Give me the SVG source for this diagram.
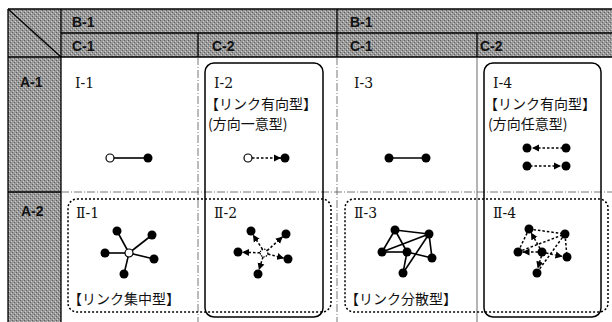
<svg xmlns="http://www.w3.org/2000/svg" width="612" height="322" viewBox="0 0 612 322">
<style>
.hd{font-family:"Liberation Sans","Noto Sans CJK JP",sans-serif;font-weight:bold;font-size:14px;fill:#111}
.lb{font-family:"Noto Sans CJK JP","Liberation Sans",sans-serif;font-size:14px;fill:#111}
.rn{font-family:"DejaVu Serif","Liberation Serif","Noto Sans CJK JP",serif;font-size:14px;fill:#111}
.tl{stroke:#000;stroke-width:1.3;fill:none}
.dd{stroke:#555;stroke-width:0.8;stroke-dasharray:8 2 1 2;fill:none}
.box{stroke:#000;stroke-width:1.5;fill:none}
.dbox{stroke:#000;stroke-width:1.5;stroke-dasharray:2 2;fill:none}
.e{stroke:#000;stroke-width:1.6;fill:none}
.de{stroke:#000;stroke-width:1.5;stroke-dasharray:2.5 2;fill:none}
.n{fill:#000}
.o{fill:#fff;stroke:#000;stroke-width:1.2}
</style>
<defs>
<pattern id="ht" width="4" height="4" patternUnits="userSpaceOnUse">
<rect width="4" height="4" fill="#9a9a9a"/>
<rect x="0" y="0" width="1" height="1" fill="#5e5e5e"/>
<rect x="2" y="2" width="1" height="1" fill="#5e5e5e"/>
<rect x="1" y="3" width="1" height="1" fill="#cccccc"/>
<rect x="3" y="1" width="1" height="1" fill="#cccccc"/>
</pattern>
<marker id="ah" viewBox="0 0 10 10" refX="10" refY="5" markerWidth="7" markerHeight="8" markerUnits="userSpaceOnUse" orient="auto">
<path d="M0,0 L10,5 L0,10 z" fill="#000"/>
</marker>
</defs>

<g id="table">
<rect x="8" y="9" width="604" height="48" fill="url(#ht)"/>
<rect x="8" y="57" width="53" height="265" fill="url(#ht)"/>
<line class="tl" x1="8" y1="9" x2="612" y2="9"/>
<line class="tl" x1="61" y1="33" x2="612" y2="33"/>
<line class="tl" x1="8" y1="57" x2="612" y2="57"/>
<line class="tl" x1="8" y1="9" x2="8" y2="322"/>
<line class="tl" x1="61" y1="9" x2="61" y2="322"/>
<line class="tl" x1="8" y1="9" x2="61" y2="57"/>
<line class="tl" x1="198" y1="33" x2="198" y2="57"/>
<line class="tl" x1="337" y1="9" x2="337" y2="57"/>
<line class="tl" x1="477" y1="33" x2="477" y2="57"/>
<line class="tl" x1="8" y1="192" x2="61" y2="192"/>
<line class="dd" x1="198" y1="57" x2="198" y2="322"/>
<line class="dd" x1="337" y1="57" x2="337" y2="322"/>
<line stroke="#444" stroke-width="0.8" x1="477" y1="57" x2="477" y2="322"/>
<line class="dd" x1="61" y1="192" x2="612" y2="192"/>
<text class="hd" x="72" y="27">B-1</text>
<text class="hd" x="72" y="51">C-1</text>
<text class="hd" x="212" y="51">C-2</text>
<text class="hd" x="350" y="27">B-1</text>
<text class="hd" x="350" y="51">C-1</text>
<text class="hd" x="480" y="51">C-2</text>
<text class="hd" x="20" y="87">A-1</text>
<text class="hd" x="21" y="216">A-2</text>
</g>

<g id="groups">
<rect class="box" x="205" y="63" width="118" height="254" rx="9"/>
<rect class="box" x="484" y="63" width="117" height="254" rx="9"/>
<rect class="dbox" x="68" y="199" width="263" height="113" rx="9"/>
<rect class="dbox" x="345" y="199" width="263" height="113" rx="9"/>
</g>

<g id="I-1">
<text class="rn" x="75" y="88">Ⅰ-1</text>
<line class="e" x1="114" y1="158" x2="145" y2="158"/>
<circle class="o" cx="110" cy="158" r="4"/>
<circle class="n" cx="148" cy="158" r="4.5"/>
</g>

<g id="I-2">
<text class="rn" x="214" y="88">Ⅰ-2</text>
<text class="lb" x="205" y="109">【リンク有向型】</text>
<text class="lb" x="208" y="129">(方向一意型)</text>
<line class="de" x1="252" y1="158" x2="281" y2="158" marker-end="url(#ah)"/>
<circle class="o" cx="248" cy="158" r="4"/>
<circle class="n" cx="285" cy="158" r="4.5"/>
</g>

<g id="I-3">
<text class="rn" x="354" y="88">Ⅰ-3</text>
<line class="e" x1="389" y1="158" x2="426" y2="158"/>
<circle class="n" cx="389" cy="158" r="4.5"/>
<circle class="n" cx="426" cy="158" r="4.5"/>
</g>

<g id="I-4">
<text class="rn" x="493" y="88">Ⅰ-4</text>
<text class="lb" x="484" y="109">【リンク有向型】</text>
<text class="lb" x="488" y="129">(方向任意型)</text>
<line class="de" x1="563" y1="148" x2="532" y2="148" marker-end="url(#ah)"/>
<circle class="n" cx="527" cy="148" r="4.5"/>
<circle class="n" cx="566" cy="148" r="4.5"/>
<line class="de" x1="530" y1="166" x2="561" y2="166" marker-end="url(#ah)"/>
<circle class="n" cx="527" cy="166" r="4.5"/>
<circle class="n" cx="566" cy="166" r="4.5"/>
</g>

<g id="II-1">
<text class="rn" x="76" y="218">Ⅱ-1</text>
<text class="lb" x="68" y="304">【リンク集中型】</text>
<g class="e">
<line x1="129" y1="253" x2="117" y2="231"/>
<line x1="129" y1="253" x2="152" y2="235"/>
<line x1="129" y1="253" x2="105" y2="253"/>
<line x1="129" y1="253" x2="154" y2="259"/>
<line x1="129" y1="253" x2="124" y2="274"/>
</g>
<circle class="n" cx="117" cy="231" r="4.5"/>
<circle class="n" cx="152" cy="235" r="4.5"/>
<circle class="n" cx="105" cy="253" r="4.5"/>
<circle class="n" cx="154" cy="259" r="4.5"/>
<circle class="n" cx="124" cy="274" r="4.5"/>
<circle class="o" cx="129" cy="253" r="4"/>
</g>

<g id="II-2">
<text class="rn" x="214" y="218">Ⅱ-2</text>
<g class="de" stroke-dasharray="2 1.5">
<line x1="262.5" y1="249.3" x2="252.9" y2="234.7" marker-end="url(#ah)"/>
<line x1="267.2" y1="250.6" x2="282.8" y2="236.6" marker-end="url(#ah)"/>
<line x1="260" y1="252.8" x2="242" y2="252.2" marker-end="url(#ah)"/>
<line x1="268" y1="254.1" x2="284.1" y2="258.2" marker-end="url(#ah)"/>
<line x1="263" y1="257" x2="258.9" y2="270" marker-end="url(#ah)"/>
</g>
<circle class="n" cx="251" cy="231" r="4.5"/>
<circle class="n" cx="286" cy="234" r="4.5"/>
<circle class="n" cx="238" cy="252" r="4.5"/>
<circle class="n" cx="288" cy="259" r="4.5"/>
<circle class="n" cx="258" cy="274" r="4.5"/>
<circle cx="264" cy="253" r="3.8" fill="#fff" stroke="#000" stroke-width="1.2" stroke-dasharray="1.5 1"/>
</g>

<g id="II-3">
<text class="rn" x="354" y="218">Ⅱ-3</text>
<text class="lb" x="345" y="304">【リンク分散型】</text>
<g class="e">
<line x1="395" y1="230" x2="429" y2="234"/>
<line x1="395" y1="230" x2="382" y2="252"/>
<line x1="395" y1="230" x2="407" y2="252"/>
<line x1="382" y1="252" x2="407" y2="252"/>
<line x1="382" y1="252" x2="429" y2="234"/>
<line x1="407" y1="252" x2="432" y2="258"/>
<line x1="429" y1="234" x2="432" y2="258"/>
<line x1="429" y1="234" x2="403" y2="273"/>
<line x1="407" y1="252" x2="403" y2="273"/>
</g>
<circle class="n" cx="395" cy="230" r="4.5"/>
<circle class="n" cx="429" cy="234" r="4.5"/>
<circle class="n" cx="382" cy="252" r="4.5"/>
<circle class="n" cx="407" cy="252" r="4.5"/>
<circle class="n" cx="432" cy="258" r="4.5"/>
<circle class="n" cx="403" cy="273" r="4.5"/>
</g>

<g id="II-4">
<text class="rn" x="493" y="218">Ⅱ-4</text>
<g class="de" stroke-dasharray="2.5 1.5">
<line x1="529" y1="229" x2="565" y2="234"/>
<line x1="529" y1="229" x2="518" y2="252"/>
<line x1="540" y1="248.5" x2="531" y2="232.5" marker-end="url(#ah)"/>
<line x1="538" y1="252" x2="522.5" y2="252" marker-end="url(#ah)"/>
<line x1="518" y1="252" x2="565" y2="234"/>
<line x1="546" y1="253" x2="562.5" y2="256.5" marker-end="url(#ah)"/>
<line x1="565" y1="234" x2="567" y2="257"/>
<line x1="565" y1="234" x2="539.5" y2="269"/>
<line x1="541.5" y1="256" x2="537.7" y2="268.5" marker-end="url(#ah)"/>
</g>
<circle class="n" cx="529" cy="229" r="4.5"/>
<circle class="n" cx="565" cy="234" r="4.5"/>
<circle class="n" cx="518" cy="252" r="4.5"/>
<circle class="n" cx="542" cy="252" r="4.5"/>
<circle class="n" cx="567" cy="257" r="4.5"/>
<circle class="n" cx="537" cy="273" r="4.5"/>
</g>
</svg>
